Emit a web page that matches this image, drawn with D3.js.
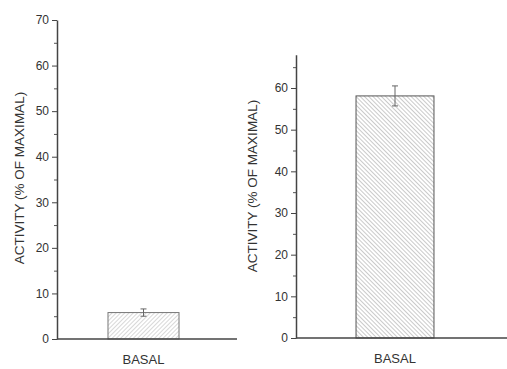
<!DOCTYPE html>
<html>
<head>
<meta charset="utf-8">
<script src="https://cdn.jsdelivr.net/npm/d3@7"></script>
<style>
  body { margin: 0; background: #fff; }
  svg { display: block; }
  text { font-family: 'Liberation Sans', Arial, sans-serif; fill: #333; }
</style>
</head>
<body>
<div id="chart"></div>
<script>
// categories and values
const categories = ['BASAL'];
const leftValues = [5.8];
const leftErrors = [0.8];
const rightValues = [58.1];
const rightErrors = [2.4];
const leftTicks = [0, 10, 20, 30, 40, 50, 60, 70];
const rightTicks = [0, 10, 20, 30, 40, 50, 60];
const yLabel = 'ACTIVITY (% OF MAXIMAL)';

const W = 507;
const H = 369;

const svg = d3.select('#chart')
  .append('svg')
  .attr('width', W)
  .attr('height', H);

const defs = svg.append('defs');

// hatch patterns: left leans '/', right leans '\'
function addHatch(id, angle, color) {
  const p = defs.append('pattern')
    .attr('id', id)
    .attr('patternUnits', 'userSpaceOnUse')
    .attr('width', 3)
    .attr('height', 3)
    .attr('patternTransform', `rotate(${angle})`);
  p.append('line')
    .attr('x1', 0).attr('y1', 0)
    .attr('x2', 0).attr('y2', 3)
    .attr('stroke', color)
    .attr('stroke-width', 0.9);
}
addHatch('hatch-left', 45, '#a8a8a8');
addHatch('hatch-right', -45, '#8a8a8a');

/**
 * Draws one panel: y axis with minor ticks, baseline, bar, error bar and labels.
 */
function drawPanel(cfg) {
  const g = svg.append('g');

  const y = d3.scaleLinear()
    .domain([0, cfg.yMax])
    .range([cfg.y0, cfg.yTop]);

  const x = d3.scaleBand()
    .domain(categories)
    .range(cfg.xRange)
    .paddingInner(0)
    .paddingOuter(cfg.outer);

  // minor ticks every 5
  const minor = d3.range(5, cfg.yMax, 10);
  g.append('g')
    .attr('transform', `translate(${cfg.axisX},0)`)
    .call(d3.axisLeft(y).tickValues(minor).tickSize(3).tickFormat(''))
    .call((s) => s.select('.domain').remove())
    .selectAll('line')
    .attr('stroke', '#555');

  const yAxis = g.append('g')
    .attr('transform', `translate(${cfg.axisX},0)`)
    .call(d3.axisLeft(y).tickValues(cfg.ticks).tickSize(5).tickPadding(3).tickSizeOuter(0));
  yAxis.select('.domain').attr('stroke', '#444').attr('stroke-width', 1.5);
  yAxis.selectAll('.tick line').attr('stroke', '#444').attr('stroke-width', 1);
  yAxis.selectAll('.tick text')
    .style('font-family', "'Liberation Sans', Arial, sans-serif")
    .style('font-size', '12px')
    .attr('fill', '#333');

  // bars
  g.selectAll('rect.bar')
    .data(categories)
    .join('rect')
    .attr('class', 'bar')
    .attr('x', (d) => x(d))
    .attr('width', x.bandwidth())
    .attr('y', (d, i) => y(cfg.values[i]))
    .attr('height', (d, i) => y(0) - y(cfg.values[i]))
    .attr('fill', `url(#${cfg.hatch})`)
    .attr('stroke', cfg.barStroke)
    .attr('stroke-width', 1);

  // error bars
  categories.forEach((c, i) => {
    const cx = x(c) + x.bandwidth() / 2;
    const hi = y(cfg.values[i] + cfg.errors[i]);
    const lo = y(cfg.values[i] - cfg.errors[i]);
    const eb = g.append('g').attr('stroke', '#666').attr('stroke-width', 1);
    eb.append('line').attr('x1', cx).attr('x2', cx).attr('y1', hi).attr('y2', lo);
    eb.append('line').attr('x1', cx - 3).attr('x2', cx + 3).attr('y1', hi).attr('y2', hi);
    eb.append('line').attr('x1', cx - 3).attr('x2', cx + 3).attr('y1', lo).attr('y2', lo);

    g.append('text')
      .attr('x', cx)
      .attr('y', cfg.y0 + 25)
      .attr('text-anchor', 'middle')
      .style('font-size', '13px')
      .text(c);
  });

  // baseline
  g.append('line')
    .attr('x1', cfg.axisX)
    .attr('x2', cfg.baseEnd)
    .attr('y1', y(0))
    .attr('y2', y(0))
    .attr('stroke', '#444')
    .attr('stroke-width', 1.5);

  // y label
  g.append('text')
    .attr('transform', `translate(${cfg.labelX},${cfg.labelY}) rotate(-90)`)
    .attr('text-anchor', 'middle')
    .attr('dy', '0.35em')
    .style('font-size', '13.5px')
    .text(yLabel);
}

drawPanel({
  yMax: 70,
  y0: 339,
  yTop: 20,
  ticks: leftTicks,
  axisX: 57,
  xRange: [57, 230],
  outer: 0.718,
  baseEnd: 237,
  values: leftValues,
  errors: leftErrors,
  hatch: 'hatch-left',
  barStroke: '#777',
  labelX: 19,
  labelY: 178,
});

drawPanel({
  yMax: 68,
  y0: 338,
  yTop: 338 - 68 * (250 / 60),
  ticks: rightTicks,
  axisX: 296,
  xRange: [296, 494],
  outer: 0.77,
  baseEnd: 507,
  values: rightValues,
  errors: rightErrors,
  hatch: 'hatch-right',
  barStroke: '#555',
  labelX: 252,
  labelY: 186,
});
</script>
</body>
</html>
